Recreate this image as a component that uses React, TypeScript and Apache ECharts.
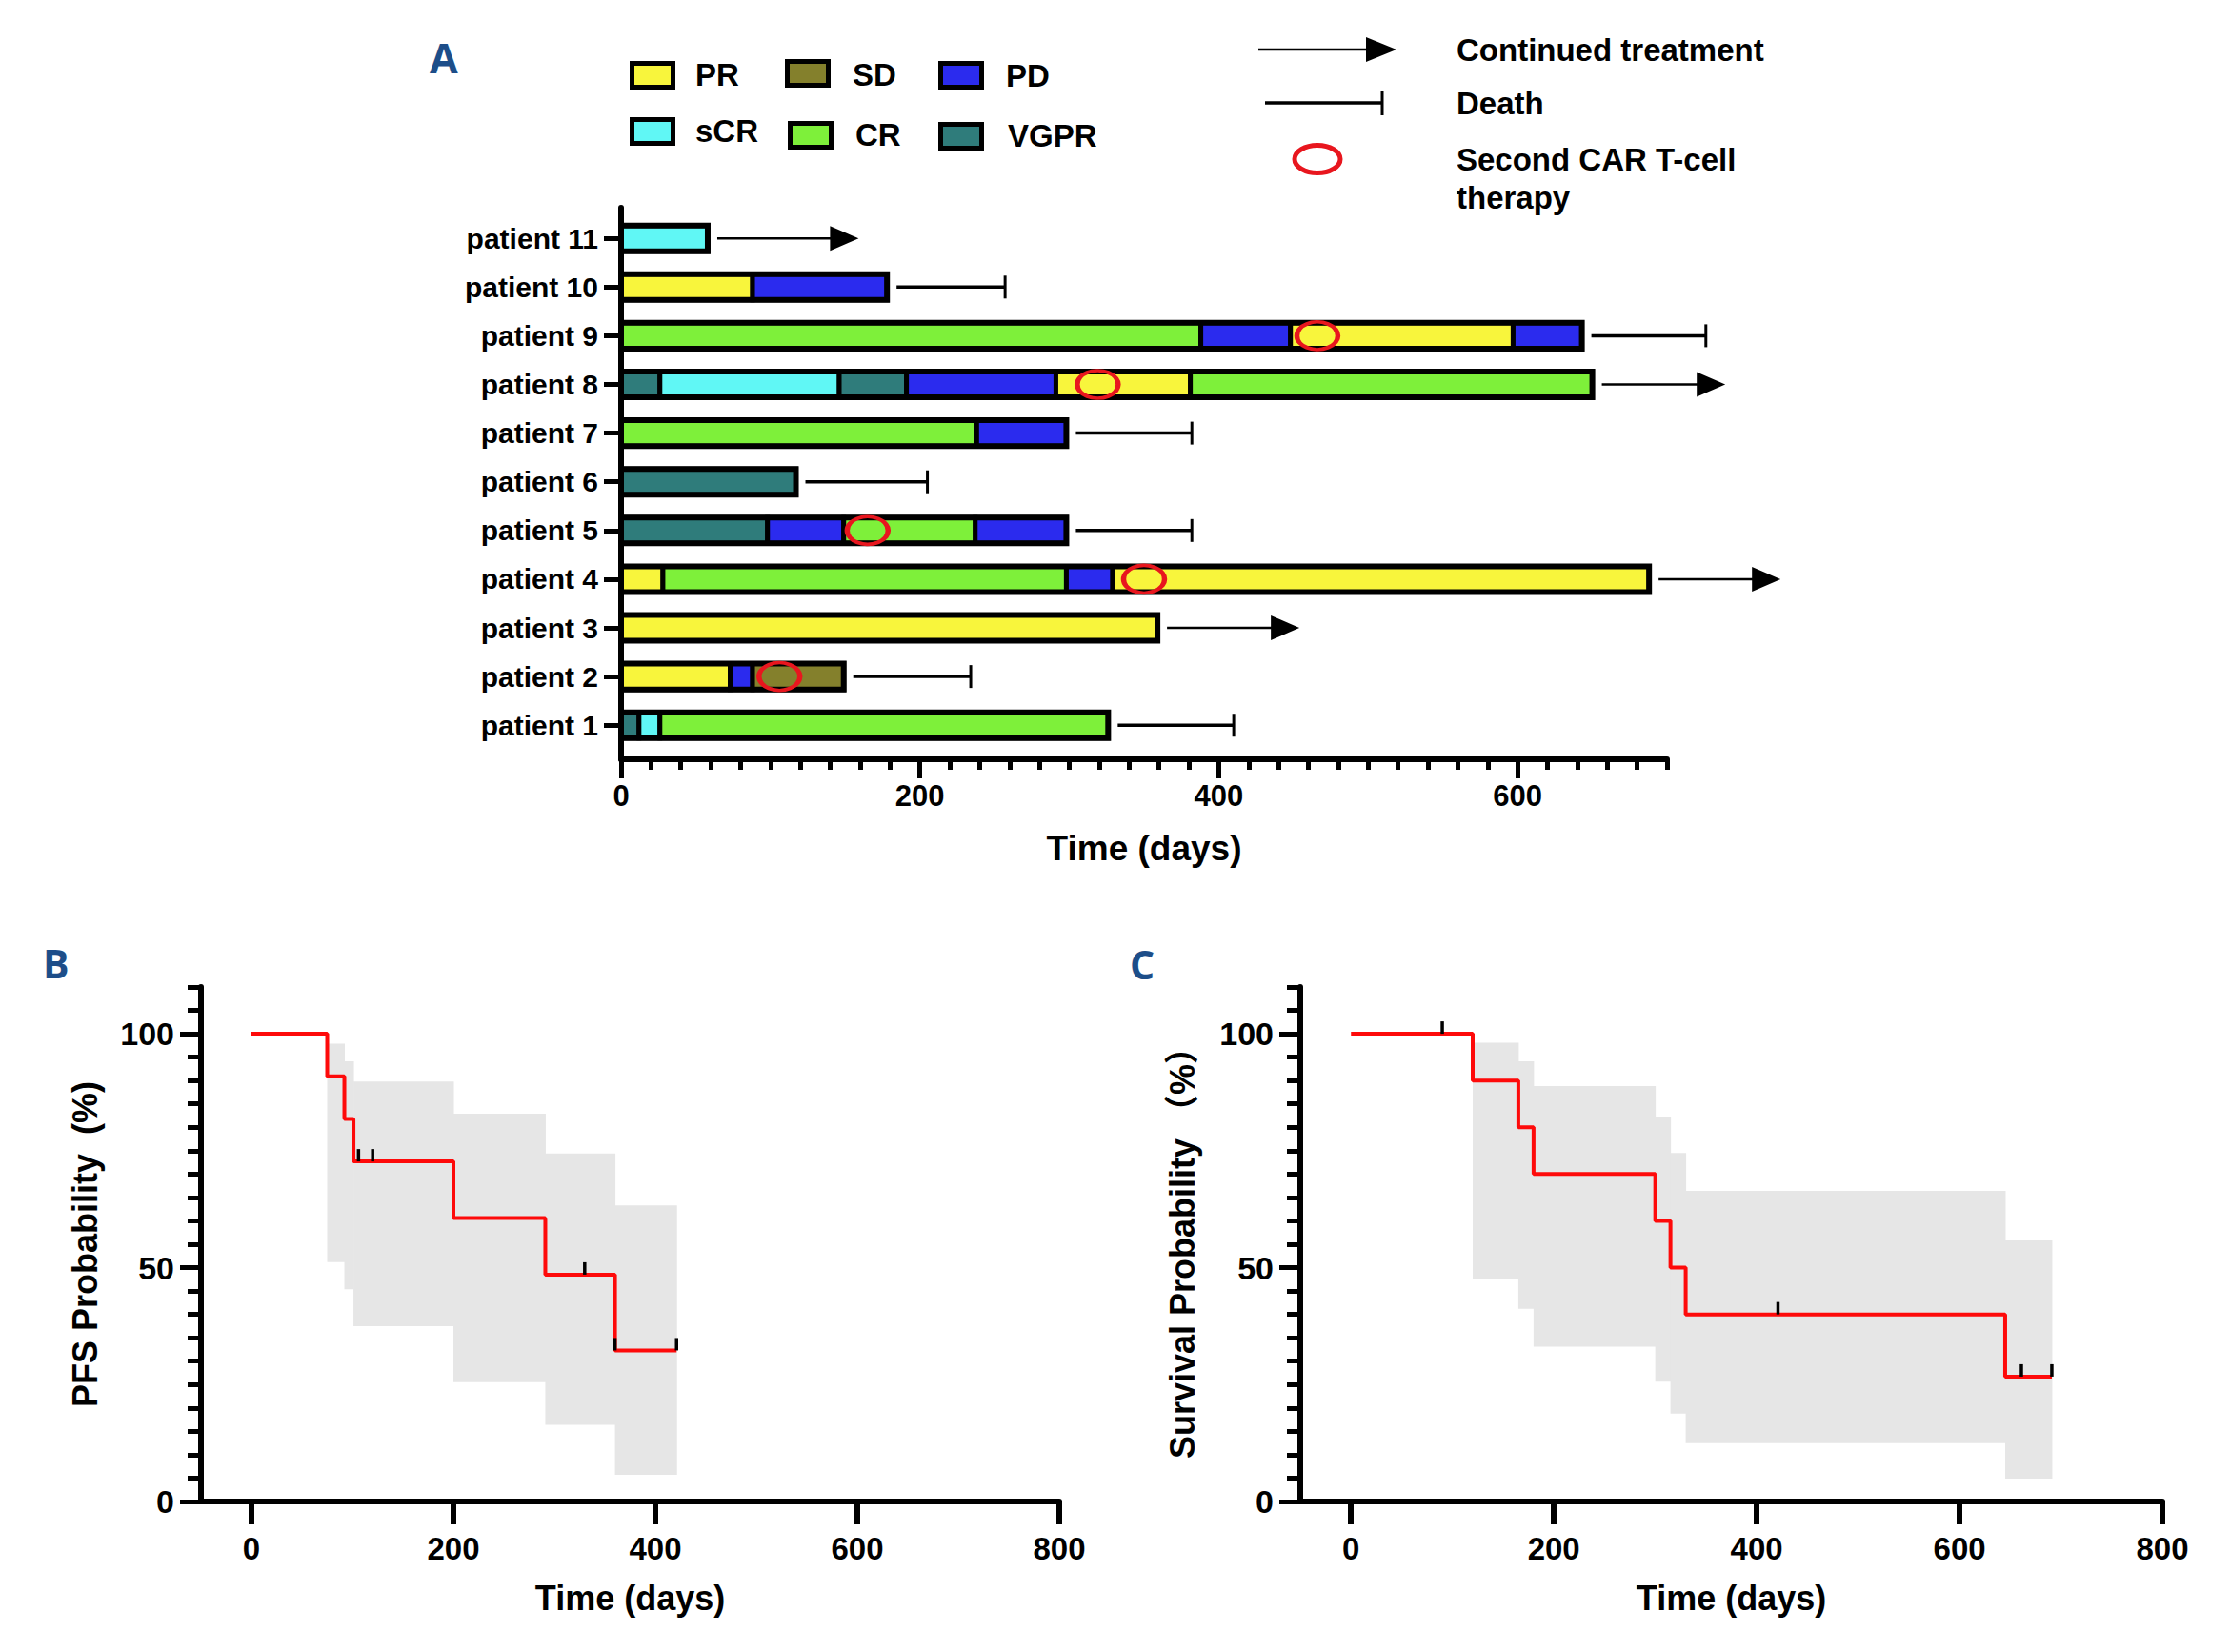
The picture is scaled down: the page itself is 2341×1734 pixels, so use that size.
import React, { useEffect, useRef } from 'react';
import * as echarts from 'echarts';

const FONT = '"Liberation Sans", Arial, Helvetica, "Noto Sans CJK SC", sans-serif';

// ---------- Panel A data ----------
const patients = [
  'patient 1', 'patient 2', 'patient 3', 'patient 4', 'patient 5', 'patient 6',
  'patient 7', 'patient 8', 'patient 9', 'patient 10', 'patient 11',
];
const statusNames = ['PR', 'SD', 'PD', 'sCR', 'CR', 'VGPR'];
const statusColors = ['#f8f53c', '#84802c', '#2b2bee', '#60f7f5', '#7ef03a', '#2f7c7b'];

// [patient number, start day, end day, response]
const responseSegments: [number, number, number, string][] = [
  [1, 0, 12, 'VGPR'], [1, 12, 26, 'sCR'], [1, 26, 326, 'CR'],
  [2, 0, 73, 'PR'], [2, 73, 88, 'PD'], [2, 88, 149, 'SD'],
  [3, 0, 359, 'PR'],
  [4, 0, 28, 'PR'], [4, 28, 298, 'CR'], [4, 298, 329, 'PD'], [4, 329, 688, 'PR'],
  [5, 0, 98, 'VGPR'], [5, 98, 149, 'PD'], [5, 149, 237, 'CR'], [5, 237, 298, 'PD'],
  [6, 0, 117, 'VGPR'],
  [7, 0, 238, 'CR'], [7, 238, 298, 'PD'],
  [8, 0, 26, 'VGPR'], [8, 26, 146, 'sCR'], [8, 146, 191, 'VGPR'], [8, 191, 291, 'PD'], [8, 291, 381, 'PR'], [8, 381, 650, 'CR'],
  [9, 0, 388, 'CR'], [9, 388, 448, 'PD'], [9, 448, 597, 'PR'], [9, 597, 643, 'PD'],
  [10, 0, 88, 'PR'], [10, 88, 178, 'PD'],
  [11, 0, 58, 'sCR'],
];
// [patient number, end day of follow-up line, outcome]
const outcomes: [number, number, string][] = [
  [1, 410, 'death'], [2, 234, 'death'], [3, 454, 'continued'], [4, 776, 'continued'],
  [5, 382, 'death'], [6, 205, 'death'], [7, 382, 'death'], [8, 739, 'continued'],
  [9, 726, 'death'], [10, 257, 'death'], [11, 159, 'continued'],
];
// [patient number, day of second CAR T-cell therapy]
const secondCarT: [number, number][] = [[2, 106], [4, 350], [5, 165], [8, 319], [9, 466]];
const timeTicksA = [0, 200, 400, 600];

// ---------- Panel B data (PFS) ----------
const pfsTimes = [0, 75, 92, 101, 200, 291, 360, 421];
const pfsSurv = [100, 90.9, 81.8, 72.7, 60.6, 48.5, 32.3, 32.3];
const pfsCiTimes = [75, 92, 101, 200, 291, 360, 421];
const pfsCiLower = [51.2, 45.4, 37.5, 25.5, 16.4, 5.7];
const pfsCiUpper = [97.9, 94.1, 89.8, 82.9, 74.4, 63.3];
const pfsCensored: [number, number][] = [[106, 72.7], [120, 72.7], [330, 48.5], [360, 32.3], [421, 32.3]];

// ---------- Panel C data (OS) ----------
const osTimes = [0, 120, 165, 180, 300, 315, 330, 645, 691];
const osSurv = [100, 90, 80, 70, 60, 50, 40, 26.7, 26.7];
const osCiTimes = [120, 165, 180, 300, 315, 330, 645, 691];
const osCiLower = [47.5, 41.2, 33.1, 25.6, 18.8, 12.5, 4.9];
const osCiUpper = [98.1, 94.1, 88.8, 82.3, 74.5, 66.4, 55.8];
const osCensored: [number, number][] = [[90, 100], [421, 40], [661, 26.7], [691, 26.7]];

const kmTicksX = [0, 200, 400, 600, 800];
const kmTicksY = [0, 50, 100];

const barEnds = patients.map((_, i) =>
  Math.max(...responseSegments.filter((s) => s[0] === i + 1).map((s) => s[2]))
);

function kmAxes(gridIndex: number, yName: string, yNameGap: number) {
  const x = {
    type: 'value', gridIndex, position: 'bottom', min: -50, max: 800,
    axisLine: { show: true, onZero: false, lineStyle: { color: '#000', width: 6 } },
    axisTick: { show: true, customValues: kmTicksX, length: 24, lineStyle: { color: '#000', width: 6 } },
    axisLabel: { customValues: kmTicksX, margin: 33, color: '#000', fontSize: 33, fontWeight: 'bold', fontFamily: FONT },
    splitLine: { show: false },
    name: 'Time (days)', nameLocation: 'middle', nameGap: 83,
    nameTextStyle: { color: '#000', fontSize: 36, fontWeight: 'bold', fontFamily: FONT },
  };
  const yMinor = {
    type: 'value', gridIndex, position: 'left', min: 0, max: 110, interval: 5,
    axisLine: { show: true, onZero: false, lineStyle: { color: '#000', width: 6 } },
    axisTick: { show: true, length: 14, lineStyle: { color: '#000', width: 5 } },
    axisLabel: { show: false },
    splitLine: { show: false },
  };
  const yMajor = {
    type: 'value', gridIndex, position: 'left', min: 0, max: 110,
    axisLine: { show: false, onZero: false },
    axisTick: { show: true, customValues: kmTicksY, length: 22, lineStyle: { color: '#000', width: 5 } },
    axisLabel: { customValues: kmTicksY, margin: 28, color: '#000', fontSize: 34, fontWeight: 'bold', fontFamily: FONT },
    splitLine: { show: false },
    name: yName, nameLocation: 'middle', nameGap: yNameGap, nameRotate: 90,
    nameTextStyle: { color: '#000', fontSize: 36, fontWeight: 'bold', fontFamily: FONT },
  };
  return { x, yMinor, yMajor };
}

function kmSeries(
  xAxisIndex: number, yAxisIndex: number,
  times: number[], surv: number[], ciTimes: number[], ciLo: number[], ciHi: number[], censored: [number, number][]
) {
  return [
    {
      type: 'custom', xAxisIndex, yAxisIndex, z: 1, silent: true, clip: false,
      data: ciLo.map((lo, i) => [ciTimes[i], ciTimes[i + 1], lo, ciHi[i]]),
      encode: { x: [0, 1], y: [2, 3] },
      renderItem: (_p: any, api: any) => {
        const a = api.coord([api.value(0), api.value(3)]);
        const b = api.coord([api.value(1), api.value(2)]);
        return { type: 'rect', shape: { x: a[0], y: a[1], width: b[0] - a[0] + 0.5, height: b[1] - a[1] }, style: { fill: '#e6e6e6' } };
      },
    },
    {
      type: 'line', xAxisIndex, yAxisIndex, z: 3, silent: true, step: 'end', symbol: 'none',
      data: times.map((t, i) => [t, surv[i]]),
      lineStyle: { color: '#fe0a0a', width: 4 },
    },
    {
      type: 'custom', xAxisIndex, yAxisIndex, z: 4, silent: true, clip: false,
      data: censored,
      encode: { x: 0, y: 1 },
      renderItem: (_p: any, api: any) => {
        const p = api.coord([api.value(0), api.value(1)]);
        return { type: 'line', shape: { x1: p[0], y1: p[1], x2: p[0], y2: p[1] - 13 }, style: { stroke: '#000', lineWidth: 3.5 } };
      },
    },
  ];
}

function legendGraphics() {
  const g: any[] = [];
  const txt = (text: string, x: number, y: number, size = 33, fill = '#000', family = FONT) => ({
    type: 'text', x, y, silent: true,
    style: { text, fill, font: `bold ${size}px ${family}`, align: 'left', verticalAlign: 'middle' },
  });
  // panel letters
  g.push(txt('A', 451, 60, 43, '#1d4e89', '"Open Sans", "Liberation Sans", sans-serif'));
  g.push(txt('B', 45, 1011, 41, '#1d4e89', '"Open Sans", "Liberation Sans", sans-serif'));
  g.push(txt('C', 1186, 1012, 41, '#1d4e89', '"Open Sans", "Liberation Sans", sans-serif'));
  // response legend
  const legendPos: [number, number, number, number][] = [
    // swatch x, swatch y, text x, text y
    [661, 64, 730, 78], // PR
    [824, 62, 895, 78], // SD
    [985, 64, 1056, 79], // PD
    [661, 123, 730, 137], // sCR
    [827, 127, 898, 141], // CR
    [985, 128, 1058, 142], // VGPR
  ];
  statusNames.forEach((name, i) => {
    const [sx, sy, tx, ty] = legendPos[i];
    g.push({
      type: 'rect', silent: true,
      shape: { x: sx + 2.5, y: sy + 2.5, width: 43, height: 25 },
      style: { fill: statusColors[i], stroke: '#000', lineWidth: 5 },
    });
    g.push(txt(name, tx, ty));
  });
  // outcome legend
  g.push({ type: 'line', silent: true, shape: { x1: 1321, y1: 52, x2: 1438, y2: 52 }, style: { stroke: '#000', lineWidth: 2.5 } });
  g.push({ type: 'polygon', silent: true, shape: { points: [[1434, 39], [1466, 52], [1434, 65]] }, style: { fill: '#000' } });
  g.push({ type: 'line', silent: true, shape: { x1: 1328, y1: 108, x2: 1451, y2: 108 }, style: { stroke: '#000', lineWidth: 3.5 } });
  g.push({ type: 'line', silent: true, shape: { x1: 1451, y1: 95, x2: 1451, y2: 121 }, style: { stroke: '#000', lineWidth: 3 } });
  g.push({ type: 'ellipse', silent: true, shape: { cx: 1383, cy: 167, rx: 24, ry: 14.5 }, style: { fill: 'none', stroke: '#e8161e', lineWidth: 5 } });
  g.push(txt('Continued treatment', 1529, 52));
  g.push(txt('Death', 1529, 108));
  g.push(txt('Second CAR T-cell', 1529, 167));
  g.push(txt('therapy', 1529, 207));
  return g;
}

function buildOption() {
  const b = kmAxes(1, 'PFS Probability  (%)', 104);
  const c = kmAxes(2, 'Survival Probability （%）', 106);

  const xAxisA0 = {
    type: 'value', gridIndex: 0, position: 'bottom', min: 0, max: 700, interval: 20,
    axisLine: { show: true, onZero: false, lineStyle: { color: '#000', width: 6 } },
    axisTick: { show: true, length: 11, lineStyle: { color: '#000', width: 5 } },
    axisLabel: { show: false },
    splitLine: { show: false },
  };
  const xAxisA1 = {
    type: 'value', gridIndex: 0, position: 'bottom', min: 0, max: 700,
    axisLine: { show: false, onZero: false },
    axisTick: { show: true, customValues: timeTicksA, length: 20, lineStyle: { color: '#000', width: 5 } },
    axisLabel: { customValues: timeTicksA, margin: 23, color: '#000', fontSize: 31, fontWeight: 'bold', fontFamily: FONT },
    splitLine: { show: false },
    name: 'Time (days)', nameLocation: 'middle', nameGap: 75,
    nameTextStyle: { color: '#000', fontSize: 37, fontWeight: 'bold', fontFamily: FONT },
  };
  const patientNums = patients.map((_, i) => i + 1);
  const yAxisA = {
    type: 'value', gridIndex: 0, position: 'left', min: 0.3, max: 11.63,
    axisLine: { show: true, onZero: false, lineStyle: { color: '#000', width: 6 } },
    axisTick: { show: true, customValues: patientNums, length: 18, lineStyle: { color: '#000', width: 5 } },
    axisLabel: {
      customValues: patientNums, margin: 24, color: '#000', fontSize: 30, fontWeight: 'bold', fontFamily: FONT,
      formatter: (v: number) => patients[Math.round(v) - 1] || '',
    },
    splitLine: { show: false },
  };

  const series: any[] = [
    {
      type: 'custom', xAxisIndex: 0, yAxisIndex: 0, z: 2, silent: true, clip: false,
      data: responseSegments.map((s) => [s[0], s[1], s[2], statusNames.indexOf(s[3])]),
      encode: { x: [1, 2], y: 0 },
      renderItem: (_p: any, api: any) => {
        const pt = api.value(0);
        const a = api.coord([api.value(1), pt]);
        const e = api.coord([api.value(2), pt]);
        const h = api.size([0, 1])[1] * 0.53;
        return {
          type: 'rect',
          shape: { x: a[0], y: a[1] - h / 2, width: e[0] - a[0], height: h },
          style: { fill: statusColors[api.value(3)], stroke: '#000', lineWidth: 5 },
        };
      },
    },
    {
      type: 'custom', xAxisIndex: 0, yAxisIndex: 0, z: 3, silent: true, clip: false,
      data: barEnds.map((e, i) => [i + 1, e]),
      encode: { x: 1, y: 0 },
      renderItem: (_p: any, api: any) => {
        const pt = api.value(0);
        const a = api.coord([0, pt]);
        const e = api.coord([api.value(1), pt]);
        const h = api.size([0, 1])[1] * 0.53;
        return {
          type: 'rect',
          shape: { x: a[0], y: a[1] - h / 2, width: e[0] - a[0], height: h },
          style: { fill: 'none', stroke: '#000', lineWidth: 6 },
        };
      },
    },
    {
      type: 'custom', xAxisIndex: 0, yAxisIndex: 0, z: 3, silent: true, clip: false,
      data: outcomes.map((o) => [o[0], barEnds[o[0] - 1], o[1], o[2] === 'continued' ? 1 : 0]),
      encode: { x: [1, 2], y: 0 },
      renderItem: (_p: any, api: any) => {
        const pt = api.value(0);
        const s = api.coord([api.value(1), pt]);
        const e = api.coord([api.value(2), pt]);
        const y = s[1];
        const x0 = s[0] + 10;
        if (api.value(3) === 1) {
          return {
            type: 'group',
            children: [
              { type: 'line', shape: { x1: x0, y1: y, x2: e[0] - 26, y2: y }, style: { stroke: '#000', lineWidth: 2.5 } },
              { type: 'polygon', shape: { points: [[e[0] - 30, y - 13], [e[0], y], [e[0] - 30, y + 13]] }, style: { fill: '#000' } },
            ],
          };
        }
        return {
          type: 'group',
          children: [
            { type: 'line', shape: { x1: x0, y1: y, x2: e[0], y2: y }, style: { stroke: '#000', lineWidth: 3.5 } },
            { type: 'line', shape: { x1: e[0], y1: y - 12, x2: e[0], y2: y + 12 }, style: { stroke: '#000', lineWidth: 3 } },
          ],
        };
      },
    },
    {
      type: 'scatter', xAxisIndex: 0, yAxisIndex: 0, z: 5, silent: true,
      data: secondCarT.map((c) => [c[1], c[0]]),
      symbol: 'circle', symbolSize: [43, 29],
      itemStyle: { color: 'rgba(0,0,0,0)', borderColor: '#e8161e', borderWidth: 4.5, opacity: 1 },
    },
    ...kmSeries(2, 2, pfsTimes, pfsSurv, pfsCiTimes, pfsCiLower, pfsCiUpper, pfsCensored),
    ...kmSeries(3, 4, osTimes, osSurv, osCiTimes, osCiLower, osCiUpper, osCensored),
  ];

  return {
    animation: false,
    backgroundColor: '#ffffff',
    textStyle: { fontFamily: FONT },
    grid: [
      { left: 652, top: 218, width: 1098, height: 579, outerBoundsMode: 'none', containLabel: false },
      { left: 211, top: 1036, width: 901, height: 540, outerBoundsMode: 'none', containLabel: false },
      { left: 1365, top: 1036, width: 905, height: 540, outerBoundsMode: 'none', containLabel: false },
    ],
    xAxis: [xAxisA0, xAxisA1, b.x, c.x],
    yAxis: [yAxisA, b.yMinor, b.yMajor, c.yMinor, c.yMajor],
    graphic: legendGraphics(),
    series,
  };
}

export default function App() {
  const ref = useRef<HTMLDivElement>(null);
  useEffect(() => {
    if (!ref.current) return;
    const chart = echarts.init(ref.current, undefined, { renderer: 'svg' });
    chart.setOption(buildOption() as any);
    return () => chart.dispose();
  }, []);
  return (
    <div
      ref={ref}
      style={{ position: 'absolute', left: 0, top: 0, width: 2341, height: 1734, background: '#fff' }}
    />
  );
}
